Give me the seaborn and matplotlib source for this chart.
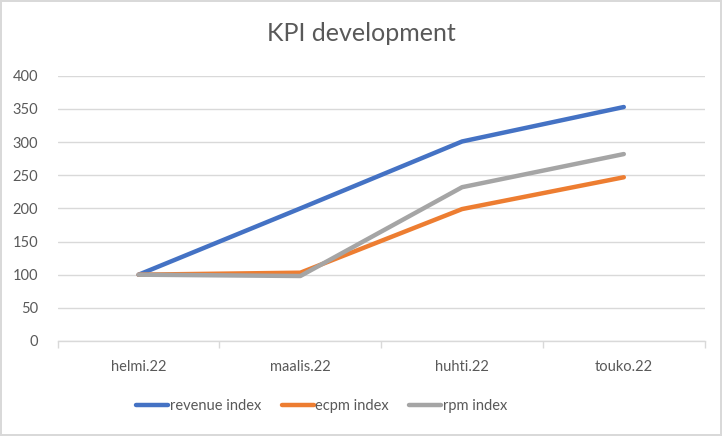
import pandas as pd
import matplotlib.pyplot as plt
import seaborn as sns
from matplotlib.ticker import FixedLocator

months = ["helmi.22", "maalis.22", "huhti.22", "touko.22"]
revenue_index = [100, 200, 301, 353]
ecpm_index = [100, 103, 199, 247]
rpm_index = [100, 98, 232, 282]

series_names = ["revenue index", "ecpm index", "rpm index"]
palette = ["#4472C4", "#ED7D31", "#A5A5A5"]

df = pd.DataFrame({
    "month": months * 3,
    "value": revenue_index + ecpm_index + rpm_index,
    "series": [series_names[0]] * 4 + [series_names[1]] * 4 + [series_names[2]] * 4,
})

sns.set_theme(style="white")
plt.rcParams["font.family"] = ["Lato", "DejaVu Sans"]
text_color = "#595959"
grid_color = "#D9D9D9"

fig = plt.figure(figsize=(7.22, 4.36), dpi=100)
fig.patch.set_edgecolor(grid_color)
fig.patch.set_linewidth(1.5)
ax = fig.add_axes([0.080, 0.218, 0.896, 0.608])

sns.lineplot(data=df, x="month", y="value", hue="series", palette=palette,
             linewidth=3.2, ax=ax, sort=False, legend=True, solid_capstyle="round")

ax.set_xlim(-0.5, 3.5)
ax.set_ylim(0, 400)
ax.set_yticks(range(0, 401, 50))
ax.yaxis.grid(True, color=grid_color, linewidth=1)
ax.set_axisbelow(True)
ax.set_xlabel("")
ax.set_ylabel("")
for s in ["top", "right", "left"]:
    ax.spines[s].set_visible(False)
ax.spines["bottom"].set_color(grid_color)
ax.spines["bottom"].set_linewidth(1)

ax.xaxis.set_minor_locator(FixedLocator([-0.5, 0.5, 1.5, 2.5, 3.5]))
ax.tick_params(axis="x", which="minor", length=5, color=grid_color, width=1, bottom=True)
ax.tick_params(axis="x", which="major", length=0, pad=14, labelsize=10.5, colors=text_color)
ax.tick_params(axis="y", length=0, pad=14, labelsize=10.5, colors=text_color)

fig.suptitle("KPI development", x=0.5, y=0.95, fontsize=18, color=text_color)

leg = ax.legend(loc="upper center", bbox_to_anchor=(0.408, -0.17), ncol=3, frameon=False,
                fontsize=10.5, handlelength=2.2, handletextpad=0.1, columnspacing=1.4)
for t in leg.get_texts():
    t.set_color(text_color)

plt.savefig("out.png", dpi=100)
